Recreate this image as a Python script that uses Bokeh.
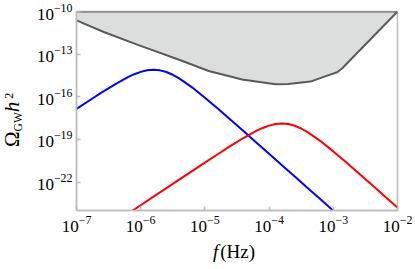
from bokeh.plotting import figure
from bokeh.models import Range1d, FixedTicker, LogTickFormatter, Div
from bokeh.layouts import row, column
from bokeh.embed import file_html
from bokeh.resources import INLINE

# ---- data (log10 values) ----
blue_log_f = [-7.0, -6.8, -6.6, -6.4, -6.2, -6.1, -6.0, -5.9, -5.8, -5.7, -5.6, -5.5, -5.4,
              -5.2, -5.0, -4.8, -4.6, -4.4, -4.2, -4.0, -3.8, -3.6, -3.4, -3.2, -3.0, -2.8]
blue_log_omega = [-16.854, -16.261, -15.678, -15.120, -14.620, -14.412, -14.247, -14.138, -14.100,
                  -14.140, -14.259, -14.451, -14.704, -15.335, -16.062, -16.832, -17.620, -18.415,
                  -19.214, -20.013, -20.812, -21.612, -22.412, -23.212, -24.012, -24.812]

red_log_f = [-6.4, -6.2, -6.0, -5.8, -5.6, -5.4, -5.2, -5.0, -4.8, -4.6, -4.4, -4.2, -4.1, -4.0,
             -3.9, -3.8, -3.7, -3.6, -3.5, -3.4, -3.2, -3.0, -2.8, -2.6, -2.4, -2.2, -2.0]
red_log_omega = [-24.829, -24.229, -23.629, -23.029, -22.429, -21.830, -21.231, -20.634, -20.041,
                 -19.458, -18.900, -18.400, -18.192, -18.027, -17.918, -17.880, -17.920, -18.039,
                 -18.231, -18.484, -19.115, -19.842, -20.612, -21.400, -22.195, -22.994, -23.793]

sens_log_f = [-7.0, -6.575, -6.055, -5.38, -4.94, -4.42, -3.90, -3.70, -3.355, -3.095, -2.94, -2.86, -2.0]
sens_log_omega = [-10.62, -11.44, -12.33, -13.43, -14.19, -14.78, -15.12, -15.10, -14.93, -14.51,
                  -14.27, -13.99, -10.0]

x_ticks = [1e-7, 1e-6, 1e-5, 1e-4, 1e-3, 1e-2]
y_ticks = [1e-22, 1e-19, 1e-16, 1e-13, 1e-10]
x_lim = (1e-7, 1e-2)
y_lim = (1e-24, 1e-10)
x_label_italic = "f"
x_label_rest = "(Hz)"

def pw(v):
    return [10.0 ** e for e in v]

YLAB_W = 24
FIG_W = 391
p = figure(width=FIG_W, height=236, x_axis_type="log", y_axis_type="log",
           x_range=Range1d(*x_lim), y_range=Range1d(*y_lim),
           output_backend="svg", toolbar_location=None,
           min_border_left=52, min_border_right=18, min_border_top=11, min_border_bottom=26)
p.grid.visible = False
p.outline_line_color = "#bdbdbd"
p.outline_line_width = 1.5
p.background_fill_color = "white"
p.border_fill_color = "white"

sf, so = pw(sens_log_f), pw(sens_log_omega)
p.varea(x=sf, y1=so, y2=[y_lim[1]] * len(sf), fill_color="#dcdddd")
p.line(x=sf, y=so, line_color="#5a5a5a", line_width=2)
p.line(x=list(x_lim), y=[y_lim[1], y_lim[1]], line_color="#5a5a5a", line_width=2)

p.line(x=pw(blue_log_f), y=pw(blue_log_omega), line_color="#0000ff", line_width=2)
p.line(x=pw(red_log_f), y=pw(red_log_omega), line_color="#ff0000", line_width=2)

for ax, ticks in ((p.xaxis, x_ticks), (p.yaxis, y_ticks)):
    ax.ticker = FixedTicker(ticks=ticks)
    ax.formatter = LogTickFormatter()
    ax.minor_tick_line_color = None
    ax.major_tick_in = 4
    ax.major_tick_out = 0
    ax.major_tick_line_color = "#bdbdbd"
    ax.major_tick_line_width = 1.5
    ax.axis_line_color = "#bdbdbd"
    ax.axis_line_width = 1.5
    ax.major_label_text_font = "Liberation Serif"
    ax.major_label_text_font_size = "17px"
    ax.major_label_text_color = "black"
p.xaxis.major_label_standoff = 5
p.yaxis.major_label_standoff = 4

FONT = "font-family:'Liberation Serif';color:black;white-space:nowrap;"
ylab_html = (
    f'<div style="position:relative;width:{YLAB_W}px;height:267px;">'
    f'<div style="position:absolute;left:2px;top:147px;transform-origin:0 0;'
    f'transform:rotate(-90deg);{FONT}font-size:21px;line-height:21px;">'
    '\u03a9<span style="font-size:11.5px;position:relative;top:3px;">GW</span>'
    '<i style="margin-right:3px;">h</i>'
    '<span style="font-size:12px;position:relative;top:-6px;">2</span>'
    '</div></div>'
)
xlab_html = (
    f'<div style="position:relative;width:{FIG_W}px;height:31px;">'
    f'<div style="position:absolute;left:{213 - YLAB_W}px;top:6px;{FONT}'
    'font-size:19px;line-height:20px;">'
    f'<i style="margin-right:2px;">{x_label_italic}</i>{x_label_rest}</div></div>'
)
ylab = Div(text=ylab_html, width=YLAB_W, height=267, margin=0, styles={"overflow": "visible"})
xlab = Div(text=xlab_html, width=FIG_W, height=31, margin=0, styles={"overflow": "visible"})

layout = row(ylab, column(p, xlab))
open("out.html", "w").write(file_html(layout, INLINE))
